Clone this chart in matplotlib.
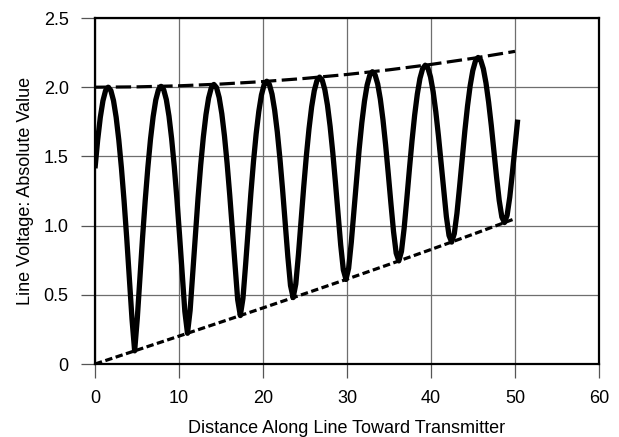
import numpy as np
import matplotlib
matplotlib.use("Agg")
import matplotlib.pyplot as plt

plt.rcParams['font.family'] = ['Liberation Sans', 'DejaVu Sans']

# Standing-wave magnitude sampled uniformly along the line (0 .. 50.32)
distance = np.linspace(0.0, 50.32, 161)
voltage = [
    1.414, 1.618, 1.782, 1.902, 1.976, 2.000, 1.976, 1.903, 1.783, 1.619,
    1.416, 1.178, 0.911, 0.623, 0.325, 0.095, 0.329, 0.627, 0.915, 1.182,
    1.420, 1.624, 1.787, 1.908, 1.981, 2.006, 1.982, 1.910, 1.791, 1.628,
    1.427, 1.192, 0.930, 0.653, 0.380, 0.222, 0.387, 0.661, 0.939, 1.201,
    1.437, 1.639, 1.802, 1.922, 1.995, 2.020, 1.997, 1.925, 1.808, 1.648,
    1.450, 1.220, 0.966, 0.704, 0.465, 0.350, 0.474, 0.717, 0.980, 1.234,
    1.465, 1.664, 1.825, 1.944, 2.017, 2.043, 2.020, 1.950, 1.834, 1.677,
    1.483, 1.260, 1.018, 0.774, 0.567, 0.480, 0.578, 0.790, 1.036, 1.280,
    1.504, 1.699, 1.858, 1.975, 2.047, 2.073, 2.051, 1.982, 1.869, 1.716,
    1.528, 1.313, 1.083, 0.860, 0.680, 0.611, 0.692, 0.878, 1.106, 1.337,
    1.554, 1.744, 1.899, 2.015, 2.086, 2.112, 2.090, 2.024, 1.914, 1.765,
    1.583, 1.377, 1.162, 0.957, 0.801, 0.745, 0.814, 0.978, 1.187, 1.406,
    1.614, 1.799, 1.950, 2.063, 2.133, 2.159, 2.139, 2.074, 1.967, 1.823,
    1.648, 1.453, 1.251, 1.065, 0.929, 0.881, 0.942, 1.088, 1.280, 1.486,
    1.685, 1.863, 2.010, 2.120, 2.189, 2.215, 2.195, 2.133, 2.030, 1.891,
    1.724, 1.539, 1.351, 1.182, 1.062, 1.022, 1.075, 1.206, 1.383, 1.576,
    1.766,
]

# Envelope curves (maximum and minimum of the standing wave)
env_x = [0, 5, 10, 15, 20, 25, 30, 35, 40, 45, 50]
env_upper = [2.000, 2.0025, 2.0101, 2.0229, 2.0407, 2.0637, 2.0920,
             2.1255, 2.1645, 2.2089, 2.2589]
env_lower = [0.000, 0.1007, 0.2017, 0.3033, 0.4055, 0.5088, 0.6134,
             0.7196, 0.8276, 0.9376, 1.0501]

x_ticks = [0, 10, 20, 30, 40, 50, 60]
y_ticks = [0, 0.5, 1.0, 1.5, 2.0, 2.5]
y_tick_labels = ["0", "0.5", "1.0", "1.5", "2.0", "2.5"]

fig = plt.figure(figsize=(6.19, 4.37), dpi=100)
ax = fig.add_axes([0.1535, 0.167, 0.9677 - 0.1535, 0.9588 - 0.167])

ax.set_xlim(0, 60)
ax.set_ylim(0, 2.5)
ax.set_xticks(x_ticks)
ax.set_yticks(y_ticks)
ax.set_yticklabels(y_tick_labels)

ax.grid(True, color="#6e6e6e", linewidth=0.9)
ax.set_axisbelow(True)

for side in ("left", "bottom", "top", "right"):
    ax.spines[side].set_color("black")
    ax.spines[side].set_linewidth(1.6)

ax.tick_params(axis="both", direction="out", length=10, width=0.9,
               color="#555555", labelsize=13, pad=9)

up, = ax.plot(env_x, env_upper, color="black", linewidth=2.3)
up.set_dashes((4.8, 1.7))
lo, = ax.plot(env_x, env_lower, color="black", linewidth=2.3)
lo.set_dashes((2.3, 1.1))

ax.plot(distance, voltage, color="black", linewidth=3.8,
        solid_joinstyle="round", solid_capstyle="butt")

ax.set_xlabel("Distance Along Line Toward Transmitter", fontsize=13,
              labelpad=9)
ax.set_ylabel("Line Voltage: Absolute Value", fontsize=13, labelpad=7)

fig.savefig("out.png", dpi=100)
